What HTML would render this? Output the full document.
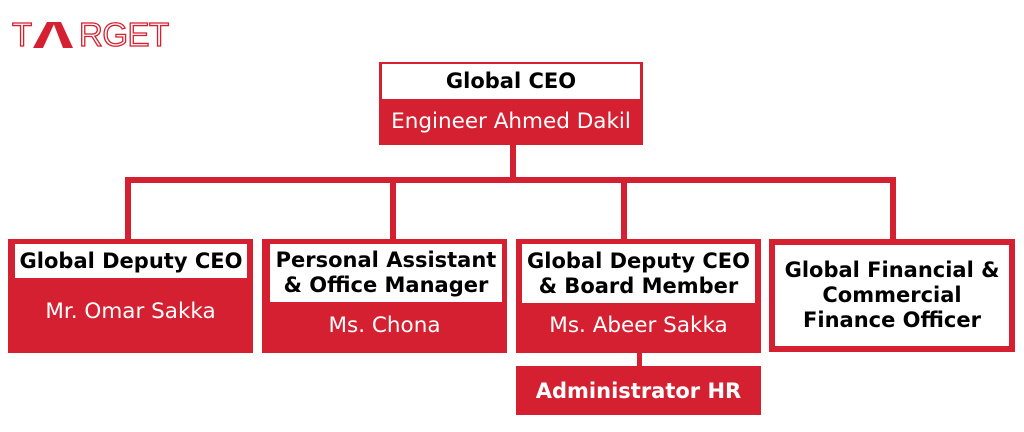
<!DOCTYPE html>
<html><head><meta charset="utf-8"><style>
body{margin:0;width:1024px;height:432px;background:#fff;position:relative;overflow:hidden;font-family:"DejaVu Sans","Liberation Sans",sans-serif}
.a{position:absolute;box-sizing:border-box}
.red{background:#d42030}
.w{background:#fff;position:absolute;box-sizing:border-box;display:flex;align-items:center;justify-content:center;text-align:center;font-weight:bold;font-size:21px;line-height:25px;color:#000;white-space:nowrap}
.n{position:absolute;left:0;right:0;text-align:center;color:#fff;font-size:21.5px;white-space:nowrap}
</style></head><body>
<!-- logo -->
<div class="a" style="left:12px;top:15px;font-size:33px;line-height:40px;color:#fff;-webkit-text-stroke:1.3px #d42030;font-family:'Liberation Sans',sans-serif">T</div>
<svg class="a" style="left:33px;top:21px" width="42" height="28"><polygon points="0,27 14,1 22,1 10,27" fill="#d42030"/><polygon points="20,1 28,1 40,27 30,27" fill="#d42030"/></svg>
<div class="a" style="left:79px;top:15px;font-size:33px;line-height:40px;color:#fff;-webkit-text-stroke:1.3px #d42030;font-family:'Liberation Sans',sans-serif;letter-spacing:-0.5px">RGET</div>

<!-- connectors -->
<div class="a red" style="left:510px;top:145px;width:6px;height:36px"></div>
<div class="a red" style="left:125px;top:177px;width:771px;height:6px"></div>
<div class="a red" style="left:125px;top:177px;width:6px;height:62px"></div>
<div class="a red" style="left:390px;top:177px;width:6px;height:62px"></div>
<div class="a red" style="left:621px;top:177px;width:6px;height:62px"></div>
<div class="a red" style="left:890px;top:177px;width:6px;height:62px"></div>
<div class="a red" style="left:637px;top:352px;width:5px;height:15px"></div>

<!-- CEO -->
<div class="a red" style="left:379px;top:62px;width:264px;height:83px">
 <div class="w" style="left:3px;top:2px;width:258px;height:35px">Global CEO</div>
 <div class="n" style="top:47px">Engineer Ahmed Dakil</div>
</div>

<div class="a red" style="left:8px;top:239px;width:245px;height:114px">
 <div class="w" style="left:7px;top:5px;width:232px;height:34px">Global Deputy CEO</div>
 <div class="n" style="top:60px">Mr. Omar Sakka</div>
</div>
<div class="a red" style="left:262px;top:239px;width:245px;height:114px">
 <div class="w" style="left:8px;top:5px;width:232px;height:58px">Personal Assistant<br>&amp; Office Manager</div>
 <div class="n" style="top:74px">Ms. Chona</div>
</div>
<div class="a red" style="left:516px;top:239px;width:245px;height:114px">
 <div class="w" style="left:6px;top:5px;width:233px;height:59px">Global Deputy CEO<br>&amp; Board Member</div>
 <div class="n" style="top:74px">Ms. Abeer Sakka</div>
</div>
<div class="a" style="left:769px;top:239px;width:246px;height:113px;border:6px solid #d42030;background:#fff;display:flex;align-items:center;justify-content:center;text-align:center;font-weight:bold;font-size:21px;line-height:25px;white-space:nowrap">Global Financial &amp;<br>Commercial<br>Finance Officer</div>

<div class="a red" style="left:516px;top:366px;width:245px;height:49px;color:#fff;font-weight:bold;font-size:21px;display:flex;align-items:center;justify-content:center">Administrator HR</div>
</body></html>
